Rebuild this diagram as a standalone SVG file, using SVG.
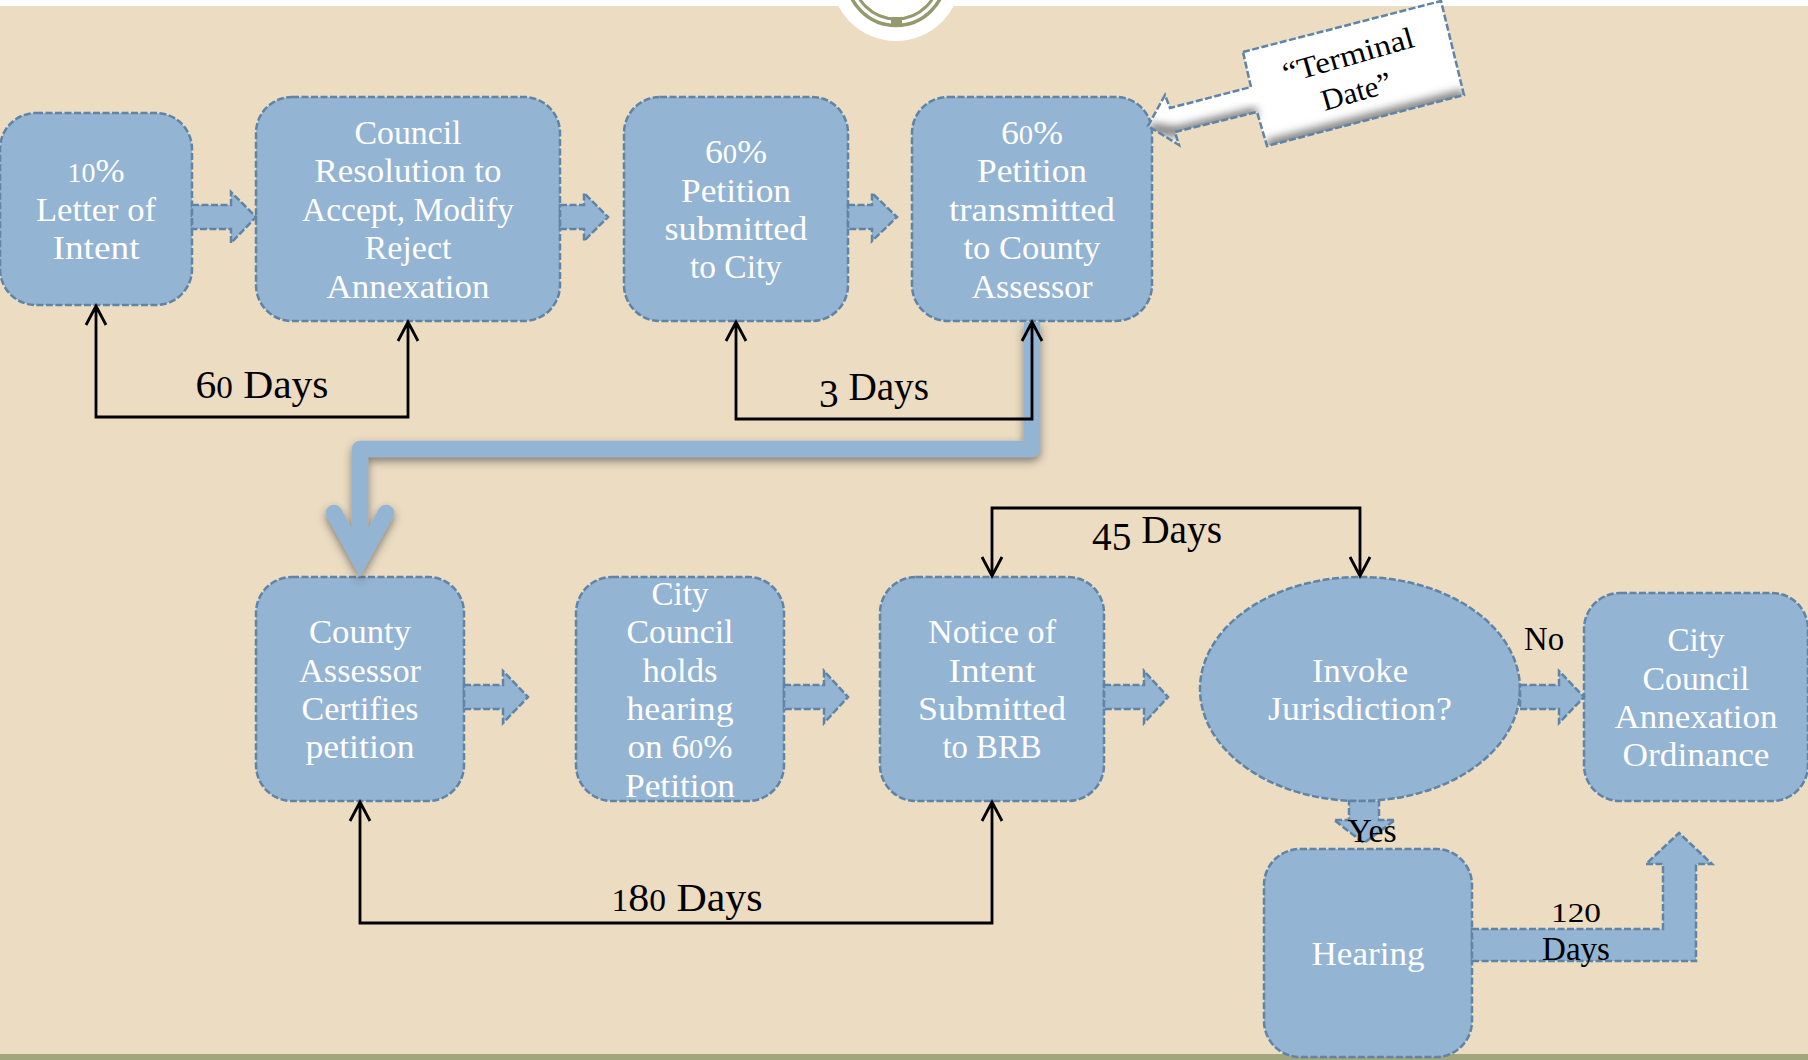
<svg xmlns="http://www.w3.org/2000/svg" width="1808" height="1060" viewBox="0 0 1808 1060">
<style>
text{font-family:"Liberation Serif","Times New Roman",serif}
.b{fill:#94b4d3;stroke:#5f84a6;stroke-width:2.500;stroke-dasharray:7 2.500}
.w{font-size:34px;fill:#fff;text-anchor:middle}
.k{fill:#000;text-anchor:middle}
.thin{fill:none;stroke:#000;stroke-width:2.800;stroke-linejoin:miter}
.o{font-size:80%}
</style>
<defs>
<filter id="sh" x="-10%" y="-10%" width="120%" height="130%"><feDropShadow dx="0" dy="4" stdDeviation="4" flood-color="#3a3a3a" flood-opacity=".6"/></filter>
<filter id="bl" x="-20%" y="-50%" width="140%" height="200%"><feGaussianBlur stdDeviation="4"/></filter>
<clipPath id="cal"><path d="M1243 52L1441 1L1464 95L1267 146L1257 112L1175 132L1179 145L1148 126L1165 95L1170 108L1251 87Z"/></clipPath>
</defs>
<rect width="1808" height="1060" fill="#ebdcc2"/>
<rect width="1808" height="6" fill="#fff"/>
<rect y="1054" width="1808" height="6" fill="#a1a67c"/>
<g id="seal">
<circle cx="896" cy="-24" r="65" fill="#fff"/>
<circle cx="896" cy="-24" r="49.500" fill="none" stroke="#949a6d" stroke-width="3.500"/>
<circle cx="896" cy="-24" r="43" fill="none" stroke="#949a6d" stroke-width="3"/>
<rect x="891" y="17" width="11" height="10" fill="#949a6d"/>
</g>
<g id="n1"><rect class="b" x="0" y="113" width="192" height="192" rx="36"/>
<text class="w" x="96" y="182" textLength="57" lengthAdjust="spacingAndGlyphs"><tspan class="o">10</tspan>%</text>
<text class="w" x="96" y="221" textLength="120" lengthAdjust="spacingAndGlyphs">Letter of</text>
<text class="w" x="96" y="259" textLength="87" lengthAdjust="spacingAndGlyphs">Intent</text></g>
<g id="n2"><rect class="b" x="256" y="97" width="304" height="224" rx="36"/>
<text class="w" x="408" y="144" textLength="107" lengthAdjust="spacingAndGlyphs">Council</text>
<text class="w" x="408" y="182" textLength="187" lengthAdjust="spacingAndGlyphs">Resolution to</text>
<text class="w" x="408" y="221" textLength="212" lengthAdjust="spacingAndGlyphs">Accept, Modify</text>
<text class="w" x="408" y="259" textLength="87" lengthAdjust="spacingAndGlyphs">Reject</text>
<text class="w" x="408" y="298" textLength="163" lengthAdjust="spacingAndGlyphs">Annexation</text></g>
<g id="n3"><rect class="b" x="624" y="97" width="224" height="224" rx="36"/>
<text class="w" x="736" y="163" textLength="62" lengthAdjust="spacingAndGlyphs">6<tspan class="o">0</tspan>%</text>
<text class="w" x="736" y="202" textLength="110" lengthAdjust="spacingAndGlyphs">Petition</text>
<text class="w" x="736" y="240" textLength="143" lengthAdjust="spacingAndGlyphs">submitted</text>
<text class="w" x="736" y="278" textLength="92" lengthAdjust="spacingAndGlyphs">to City</text></g>
<g id="n4"><rect class="b" x="912" y="97" width="240" height="224" rx="36"/>
<text class="w" x="1032" y="144" textLength="62" lengthAdjust="spacingAndGlyphs">6<tspan class="o">0</tspan>%</text>
<text class="w" x="1032" y="182" textLength="110" lengthAdjust="spacingAndGlyphs">Petition</text>
<text class="w" x="1032" y="221" textLength="166" lengthAdjust="spacingAndGlyphs">transmitted</text>
<text class="w" x="1032" y="259" textLength="137" lengthAdjust="spacingAndGlyphs">to County</text>
<text class="w" x="1032" y="298" textLength="121" lengthAdjust="spacingAndGlyphs">Assessor</text></g>
<g id="n5"><rect class="b" x="256" y="577" width="208" height="224" rx="36"/>
<text class="w" x="360" y="643" textLength="102" lengthAdjust="spacingAndGlyphs">County</text>
<text class="w" x="360" y="682" textLength="122" lengthAdjust="spacingAndGlyphs">Assessor</text>
<text class="w" x="360" y="720" textLength="117" lengthAdjust="spacingAndGlyphs">Certifies</text>
<text class="w" x="360" y="758" textLength="109" lengthAdjust="spacingAndGlyphs">petition</text></g>
<g id="n6"><rect class="b" x="576" y="577" width="208" height="224" rx="36"/>
<text class="w" x="680" y="605" textLength="57" lengthAdjust="spacingAndGlyphs">City</text>
<text class="w" x="680" y="643" textLength="107" lengthAdjust="spacingAndGlyphs">Council</text>
<text class="w" x="680" y="682" textLength="75" lengthAdjust="spacingAndGlyphs">holds</text>
<text class="w" x="680" y="720" textLength="107" lengthAdjust="spacingAndGlyphs">hearing</text>
<text class="w" x="680" y="758" textLength="105" lengthAdjust="spacingAndGlyphs">on 6<tspan class="o">0</tspan>%</text>
<text class="w" x="680" y="797" textLength="110" lengthAdjust="spacingAndGlyphs">Petition</text></g>
<g id="n7"><rect class="b" x="880" y="577" width="224" height="224" rx="36"/>
<text class="w" x="992" y="643" textLength="128" lengthAdjust="spacingAndGlyphs">Notice of</text>
<text class="w" x="992" y="682" textLength="87" lengthAdjust="spacingAndGlyphs">Intent</text>
<text class="w" x="992" y="720" textLength="148" lengthAdjust="spacingAndGlyphs">Submitted</text>
<text class="w" x="992" y="758" textLength="99" lengthAdjust="spacingAndGlyphs">to BRB</text></g>
<g id="n8"><ellipse class="b" cx="1360" cy="689" rx="160" ry="112"/>
<text class="w" x="1360" y="682" textLength="96" lengthAdjust="spacingAndGlyphs">Invoke</text>
<text class="w" x="1360" y="720" textLength="184" lengthAdjust="spacingAndGlyphs">Jurisdiction?</text></g>
<g id="n9"><rect class="b" x="1584" y="593" width="224" height="208" rx="36"/>
<text class="w" x="1696" y="651" textLength="57" lengthAdjust="spacingAndGlyphs">City</text>
<text class="w" x="1696" y="690" textLength="107" lengthAdjust="spacingAndGlyphs">Council</text>
<text class="w" x="1696" y="728" textLength="163" lengthAdjust="spacingAndGlyphs">Annexation</text>
<text class="w" x="1696" y="766" textLength="147" lengthAdjust="spacingAndGlyphs">Ordinance</text></g>
<g id="n10"><rect class="b" x="1264" y="849" width="208" height="208" rx="36"/>
<text class="w" x="1368" y="965" textLength="113" lengthAdjust="spacingAndGlyphs">Hearing</text></g>
<g id="terminal-date">
<g clip-path="url(#cal)">
<rect x="1140" y="0" width="330" height="150" fill="#fff"/>
<path d="M1267 146L1464 95" stroke="#7f7f7f" stroke-width="12" fill="none" filter="url(#bl)"/>
<path d="M1257 112L1175 132L1150 128" stroke="#777" stroke-width="10" fill="none" filter="url(#bl)"/>
</g>
<path d="M1243 52L1441 1L1464 95L1267 146L1257 112L1175 132L1179 145L1148 126L1165 95L1170 108L1251 87Z" fill="none" stroke="#5f84a6" stroke-width="2.500" stroke-dasharray="7 2.500"/>
<text class="k" font-size="30" transform="translate(1351 65) rotate(-16)" textLength="135" lengthAdjust="spacingAndGlyphs">“Terminal</text>
<text class="k" font-size="30" transform="translate(1359 101) rotate(-16)" textLength="72" lengthAdjust="spacingAndGlyphs">Date”</text>
</g>
<g id="connectors">
<path class="b" d="M192 205H231V192L256 217L231 243V229H192Z"/>
<path class="b" d="M560 205H584V193L608 217L584 241V229H560Z"/>
<path class="b" d="M848 205H872V193L897 217L872 241V229H848Z"/>
<path class="b" d="M464 685H503V671L528 697L503 723V709H464Z"/>
<path class="b" d="M784 685H824V671L848 697L824 723V709H784Z"/>
<path class="b" d="M1104 685H1144V671L1168 697L1144 723V709H1104Z"/>
<path class="b" d="M1520 685H1559V671L1584 697L1559 723V709H1520Z"/>
<path class="b" d="M1349 801H1379V820H1395L1364 843L1334 820H1349Z"/>
<path class="b" d="M1472 929H1663V864H1646L1679 833L1712 864H1696V961H1472Z"/>
<g filter="url(#sh)"><path d="M1032 322V449H360V560" fill="none" stroke="#94b4d3" stroke-width="16.500" stroke-linejoin="round"/><path d="M334 513L360 560L386 513" fill="none" stroke="#94b4d3" stroke-width="16.500" stroke-linejoin="miter" stroke-linecap="round"/></g>
<path class="thin" d="M96 306V417H408V322M86 325L96 306L106 325M398 341L408 322L418 341"/>
<path class="thin" d="M736 322V419H1032V322M726 341L736 322L746 341M1022 341L1032 322L1042 341"/>
<path class="thin" d="M992 576V508H1360V576M982 557L992 576L1002 557M1350 557L1360 576L1370 557"/>
<path class="thin" d="M360 802V923H992V802M350 821L360 802L370 821M982 821L992 802L1002 821"/>
<text class="k" font-size="39" x="262" y="398" textLength="133" lengthAdjust="spacingAndGlyphs">6<tspan class="o">0</tspan> Days</text>
<text class="k" font-size="39" x="874" y="400" textLength="110" lengthAdjust="spacingAndGlyphs"><tspan dy="7">3</tspan><tspan dy="-7"> Days</tspan></text>
<text class="k" font-size="39" x="1157" y="543" textLength="130" lengthAdjust="spacingAndGlyphs"><tspan dy="7">45</tspan><tspan dy="-7"> Days</tspan></text>
<text class="k" font-size="39" x="687" y="911" textLength="151" lengthAdjust="spacingAndGlyphs"><tspan class="o">1</tspan>8<tspan class="o">0</tspan> Days</text>
<text class="k" font-size="34" x="1544" y="650" textLength="40" lengthAdjust="spacingAndGlyphs">No</text>
<text class="k" font-size="34" x="1372" y="842" textLength="49" lengthAdjust="spacingAndGlyphs">Yes</text>
<text class="k" font-size="34" x="1576" y="922" textLength="50" lengthAdjust="spacingAndGlyphs"><tspan class="o">120</tspan></text>
<text class="k" font-size="34" x="1576" y="960" textLength="68" lengthAdjust="spacingAndGlyphs">Days</text>
</g>
</svg>
